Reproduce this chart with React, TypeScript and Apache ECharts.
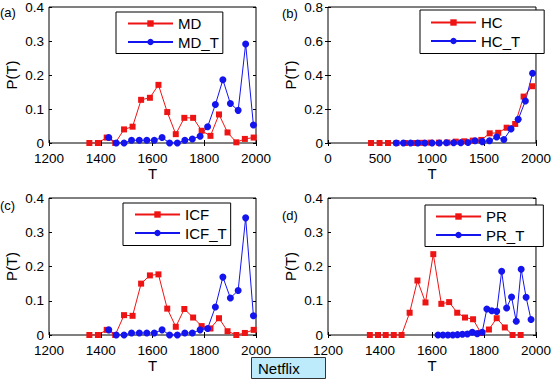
import React, { useEffect, useRef } from "react";
import * as echarts from "echarts";

const FONT = '"Liberation Sans", Arial, Helvetica, sans-serif';
const RED = "#ee1414";
const BLUE = "#1414ee";

// Panel (a): MD
const mdT = [1356, 1389, 1423, 1456, 1490, 1523, 1556, 1590, 1623, 1657, 1690, 1723, 1757, 1790, 1824, 1857, 1890, 1924, 1957, 1991];
const mdP = [0, 0, 0.016, 0, 0.04, 0.048, 0.127, 0.133, 0.171, 0.091, 0.026, 0.074, 0.074, 0.036, 0.021, 0.084, 0.031, 0.002, 0.012, 0.016];
const mdtT = [1431, 1460, 1490, 1519, 1549, 1578, 1607, 1637, 1666, 1696, 1725, 1754, 1784, 1813, 1843, 1872, 1901, 1931, 1960, 1990];
const mdtP = [0.016, 0, 0, 0.008, 0.008, 0.008, 0.008, 0.016, 0, 0, 0.008, 0.012, 0.02, 0.048, 0.113, 0.186, 0.116, 0.096, 0.291, 0.053];

// Panel (b): HC
const hcT = [414, 496, 577, 659, 740, 822, 903, 985, 1066, 1148, 1229, 1311, 1392, 1474, 1555, 1637, 1718, 1800, 1881, 1963];
const hcP = [0, 0, 0, 0, 0, 0, 0.001, 0.002, 0.002, 0.003, 0.008, 0.01, 0.014, 0.018, 0.057, 0.06, 0.09, 0.112, 0.273, 0.334];
const hctT = [656, 725, 794, 863, 932, 1001, 1070, 1139, 1208, 1277, 1346, 1415, 1484, 1553, 1622, 1691, 1760, 1829, 1898, 1967];
const hctP = [0, 0, 0, 0, 0, 0, 0, 0.001, 0.001, 0.002, 0.003, 0.013, 0.008, 0.013, 0.035, 0.021, 0.083, 0.139, 0.247, 0.41];

// Panel (c): ICF
const icfT = [1356, 1389, 1423, 1456, 1490, 1523, 1556, 1590, 1623, 1657, 1690, 1723, 1757, 1790, 1824, 1857, 1890, 1924, 1957, 1991];
const icfP = [0, 0, 0.015, 0, 0.058, 0.056, 0.15, 0.174, 0.177, 0.077, 0.024, 0.076, 0.051, 0.026, 0.019, 0.049, 0.011, 0, 0.006, 0.015];
const icftT = [1431, 1460, 1490, 1519, 1549, 1578, 1607, 1637, 1666, 1696, 1725, 1754, 1784, 1813, 1843, 1872, 1901, 1931, 1960, 1990];
const icftP = [0.015, 0, 0, 0.006, 0.006, 0.006, 0.006, 0.015, 0, 0, 0.006, 0.006, 0.015, 0.019, 0.082, 0.169, 0.108, 0.13, 0.342, 0.056];

// Panel (d): PR
const prT = [1361, 1392, 1422, 1453, 1483, 1514, 1544, 1575, 1605, 1636, 1666, 1697, 1727, 1758, 1788, 1819, 1849, 1880, 1910, 1941];
const prP = [0, 0, 0, 0, 0, 0.065, 0.159, 0.095, 0.236, 0.091, 0.096, 0.065, 0.051, 0.046, 0.006, 0.016, 0.049, 0.022, 0, 0];
const prtT = [1623, 1642, 1661, 1680, 1698, 1717, 1736, 1755, 1774, 1793, 1811, 1830, 1849, 1868, 1887, 1906, 1924, 1943, 1962, 1981];
const prtP = [0, 0, 0, 0, 0.001, 0.002, 0.003, 0.008, 0.004, 0.008, 0.076, 0.071, 0.069, 0.186, 0.079, 0.111, 0.04, 0.192, 0.11, 0.045];

// Axis ranges [min, max, interval]
const xRangeNarrow = [1200, 2000, 200];
const xRangeWide = [0, 2000, 500];
const yRangeSmall = [0, 0.4, 0.1];
const yRangeLarge = [0, 0.8, 0.2];

const panelLabels = ["(a)", "(b)", "(c)", "(d)"];
const seriesNames = [
  ["MD", "MD_T"],
  ["HC", "HC_T"],
  ["ICF", "ICF_T"],
  ["PR", "PR_T"],
];
const footerLabel = "Netflix";

const pair = (x: number[], y: number[]) => x.map((v, i) => [v, y[i]]);
const plain = (v: number) => String(Math.round(v * 1000) / 1000);

export default function App() {
  const ref = useRef<HTMLDivElement>(null);

  useEffect(() => {
    if (!ref.current) return;
    const chart = echarts.init(ref.current, null, { renderer: "svg" });

    const panels = [
      { grid: { left: 49, top: 5, width: 207, height: 138 }, x: xRangeNarrow, y: yRangeSmall, red: pair(mdT, mdP), blue: pair(mdtT, mdtP), xGap: 14, lblMargin: 8,
        legend: { left: 116, top: 12, padding: [4, 4, 4, 11] }, label: { x: 0, y: 14 } },
      { grid: { left: 328, top: 5, width: 209, height: 138 }, x: xRangeWide, y: yRangeLarge, red: pair(hcT, hcP), blue: pair(hctT, hctP), xGap: 14, lblMargin: 8,
        legend: { left: 420, top: 10, padding: [5, 24, 5, 10] }, label: { x: 282, y: 15 } },
      { grid: { left: 49, top: 198, width: 207, height: 137 }, x: xRangeNarrow, y: yRangeSmall, red: pair(icfT, icfP), blue: pair(icftT, icftP), xGap: 16, lblMargin: 8,
        legend: { left: 123, top: 203, padding: [4, 4, 5, 11] }, label: { x: 0, y: 207 } },
      { grid: { left: 328, top: 198, width: 209, height: 137 }, x: xRangeNarrow, y: yRangeSmall, red: pair(prT, prP), blue: pair(prtT, prtP), xGap: 16, lblMargin: 8,
        legend: { left: 425, top: 205, padding: [4, 19, 4, 10] }, label: { x: 282, y: 217 } },
    ];

    const grid: any[] = [];
    const xAxis: any[] = [];
    const yAxis: any[] = [];
    const series: any[] = [];
    const legend: any[] = [];
    const graphic: any[] = [];

    const tick = { inside: true, length: 3, lineStyle: { color: "#000", width: 1 } };

    panels.forEach((p, i) => {
      grid.push({ ...p.grid, show: true, borderColor: "#000", borderWidth: 1, backgroundColor: "#fff", containLabel: false });
      const xBase = { type: "value", gridIndex: i, min: p.x[0], max: p.x[1], interval: p.x[2], splitLine: { show: false }, axisLine: { show: false } };
      const yBase = { type: "value", gridIndex: i, min: p.y[0], max: p.y[1], interval: p.y[2], splitLine: { show: false }, axisLine: { show: false } };
      xAxis.push({
        ...xBase, position: "bottom", axisTick: tick,
        axisLabel: { color: "#000", fontSize: 13.5, fontFamily: FONT, margin: p.lblMargin, formatter: plain },
        name: "T", nameLocation: "middle", nameGap: p.xGap,
        nameTextStyle: { color: "#000", fontSize: 15, fontFamily: FONT },
      });
      xAxis.push({ ...xBase, position: "top", axisTick: tick, axisLabel: { show: false } });
      yAxis.push({
        ...yBase, position: "left", axisTick: tick,
        axisLabel: { color: "#000", fontSize: 13.5, fontFamily: FONT, margin: 5, formatter: plain },
        name: "P(T)", nameLocation: "middle", nameGap: 30, nameRotate: 90,
        nameTextStyle: { color: "#000", fontSize: 15, fontFamily: FONT },
      });
      yAxis.push({ ...yBase, position: "right", axisTick: tick, axisLabel: { show: false } });

      series.push({
        name: seriesNames[i][0], type: "line", xAxisIndex: 2 * i, yAxisIndex: 2 * i,
        data: p.red, symbol: "rect", symbolSize: 6, showAllSymbol: true,
        lineStyle: { color: RED, width: 1 }, itemStyle: { color: RED },
      });
      series.push({
        name: seriesNames[i][1], type: "line", xAxisIndex: 2 * i, yAxisIndex: 2 * i,
        data: p.blue, symbol: "circle", symbolSize: 7, showAllSymbol: true,
        lineStyle: { color: BLUE, width: 1 }, itemStyle: { color: BLUE },
      });

      legend.push({
        data: seriesNames[i], orient: "vertical", left: p.legend.left, top: p.legend.top,
        padding: p.legend.padding, itemGap: 3.5, itemWidth: 45, itemHeight: 8,
        borderColor: "#000", borderWidth: 1, backgroundColor: "#fff", selectedMode: false,
        textStyle: { color: "#000", fontSize: 15, lineHeight: 14, fontFamily: FONT },
      });

      graphic.push({
        type: "text", left: p.label.x, top: p.label.y - 8,
        style: { text: panelLabels[i], fill: "#000", font: `13px ${FONT}` },
      });
    });

    graphic.push({
      type: "rect", shape: { x: 251.5, y: 357.5, width: 74, height: 21 },
      style: { fill: "#bdebfb", stroke: "#333", lineWidth: 1 },
    });
    graphic.push({
      type: "text", x: 258, y: 368,
      style: { text: footerLabel, fill: "#000", font: `15px ${FONT}`, verticalAlign: "middle" },
    });

    chart.setOption({
      animation: false,
      backgroundColor: "#fff",
      grid, xAxis, yAxis, series, legend, graphic,
    });

    return () => chart.dispose();
  }, []);

  return (
    <div
      ref={ref}
      style={{ position: "fixed", left: 0, top: 0, width: 554, height: 380 }}
    />
  );
}
